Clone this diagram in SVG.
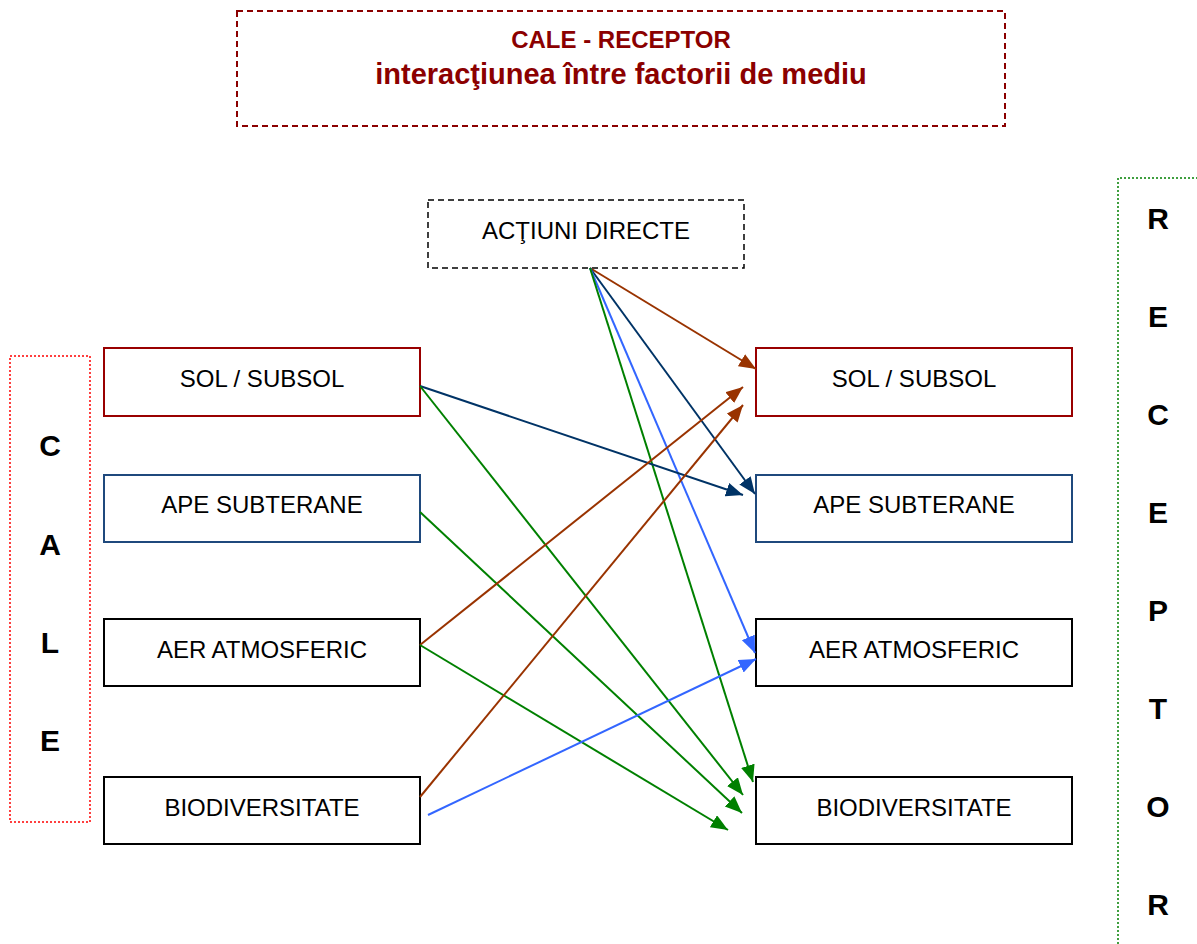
<svg xmlns="http://www.w3.org/2000/svg" width="1197" height="944" viewBox="0 0 1197 944">
<style>
text{font-family:"Liberation Sans",Arial,sans-serif}
.lbl{font-size:24px;fill:#000;text-anchor:middle}
.big{font-size:30px;font-weight:bold;fill:#000;text-anchor:middle}
.box{fill:#fff;stroke-width:2}
.ln{fill:none;stroke-width:2}
</style>
<defs>
<marker id="ab" markerUnits="userSpaceOnUse" markerWidth="19" markerHeight="15" refX="17" refY="7" orient="auto"><path d="M0,0 L17,7 L0,14 z" fill="#993300"/></marker>
<marker id="an" markerUnits="userSpaceOnUse" markerWidth="19" markerHeight="15" refX="17" refY="7" orient="auto"><path d="M0,0 L17,7 L0,14 z" fill="#003366"/></marker>
<marker id="al" markerUnits="userSpaceOnUse" markerWidth="19" markerHeight="15" refX="17" refY="7" orient="auto"><path d="M0,0 L17,7 L0,14 z" fill="#3366FF"/></marker>
<marker id="ag" markerUnits="userSpaceOnUse" markerWidth="19" markerHeight="15" refX="17" refY="7" orient="auto"><path d="M0,0 L17,7 L0,14 z" fill="#008000"/></marker>
</defs>
<rect width="1197" height="944" fill="#fff"/>

<g id="title">
<rect x="237" y="11" width="768" height="115" fill="none" stroke="#8B0000" stroke-width="2" stroke-dasharray="6 4"/>
<text x="621" y="48" font-size="24" font-weight="bold" fill="#8B0000" text-anchor="middle">CALE - RECEPTOR</text>
<text x="621" y="84" font-size="29" font-weight="bold" fill="#8B0000" text-anchor="middle">interacţiunea între factorii de mediu</text>
</g>

<g id="cale">
<rect x="10" y="356" width="80" height="466" fill="none" stroke="#FF0000" stroke-width="1.5" stroke-dasharray="2 2"/>
<text class="big" x="50" y="456">C</text>
<text class="big" x="50" y="555">A</text>
<text class="big" x="50" y="653">L</text>
<text class="big" x="50" y="751">E</text>
</g>

<g id="receptor">
<path d="M1118,960 L1118,178 L1200,178" fill="none" stroke="#008000" stroke-width="1.5" stroke-dasharray="2 2"/>
<text class="big" x="1158" y="229">R</text>
<text class="big" x="1158" y="327">E</text>
<text class="big" x="1158" y="425">C</text>
<text class="big" x="1158" y="523">E</text>
<text class="big" x="1158" y="621">P</text>
<text class="big" x="1158" y="719">T</text>
<text class="big" x="1158" y="817">O</text>
<text class="big" x="1158" y="915">R</text>
</g>

<g id="actiuni">
<rect x="428" y="200" width="316" height="68" fill="#fff" stroke="#000" stroke-width="1.5" stroke-dasharray="6 4"/>
<text class="lbl" x="586" y="239">ACŢIUNI DIRECTE</text>
</g>

<g id="cale-sol"><rect class="box" x="104" y="348" width="316" height="68" stroke="#990000"/><text class="lbl" x="262" y="387">SOL / SUBSOL</text></g>
<g id="cale-ape"><rect class="box" x="104" y="475" width="316" height="67" stroke="#1F497D"/><text class="lbl" x="262" y="513">APE SUBTERANE</text></g>
<g id="cale-aer"><rect class="box" x="104" y="619" width="316" height="67" stroke="#000"/><text class="lbl" x="262" y="658">AER ATMOSFERIC</text></g>
<g id="cale-bio"><rect class="box" x="104" y="777" width="316" height="67" stroke="#000"/><text class="lbl" x="262" y="816">BIODIVERSITATE</text></g>

<g id="rec-sol"><rect class="box" x="756" y="348" width="316" height="68" stroke="#990000"/><text class="lbl" x="914" y="387">SOL / SUBSOL</text></g>
<g id="rec-ape"><rect class="box" x="756" y="475" width="316" height="67" stroke="#1F497D"/><text class="lbl" x="914" y="513">APE SUBTERANE</text></g>
<g id="rec-aer"><rect class="box" x="756" y="619" width="316" height="67" stroke="#000"/><text class="lbl" x="914" y="658">AER ATMOSFERIC</text></g>
<g id="rec-bio"><rect class="box" x="756" y="777" width="316" height="67" stroke="#000"/><text class="lbl" x="914" y="816">BIODIVERSITATE</text></g>

<g id="connectors">
<line class="ln" x1="590" y1="268" x2="756" y2="369" stroke="#993300" marker-end="url(#ab)"/>
<line class="ln" x1="590" y1="268" x2="755" y2="494" stroke="#003366" marker-end="url(#an)"/>
<line class="ln" x1="590" y1="268" x2="755" y2="653" stroke="#3366FF" marker-end="url(#al)"/>
<line class="ln" x1="590" y1="268" x2="753" y2="782" stroke="#008000" marker-end="url(#ag)"/>
<line class="ln" x1="420" y1="386" x2="743" y2="495" stroke="#003366" marker-end="url(#an)"/>
<line class="ln" x1="420" y1="386" x2="743" y2="795" stroke="#008000" marker-end="url(#ag)"/>
<line class="ln" x1="420" y1="512" x2="742" y2="813" stroke="#008000" marker-end="url(#ag)"/>
<line class="ln" x1="420" y1="645" x2="743" y2="387" stroke="#993300" marker-end="url(#ab)"/>
<line class="ln" x1="420" y1="645" x2="728" y2="830" stroke="#008000" marker-end="url(#ag)"/>
<line class="ln" x1="420" y1="797" x2="743" y2="405" stroke="#993300" marker-end="url(#ab)"/>
<line class="ln" x1="428" y1="815" x2="756" y2="659" stroke="#3366FF" marker-end="url(#al)"/>
</g>
</svg>
